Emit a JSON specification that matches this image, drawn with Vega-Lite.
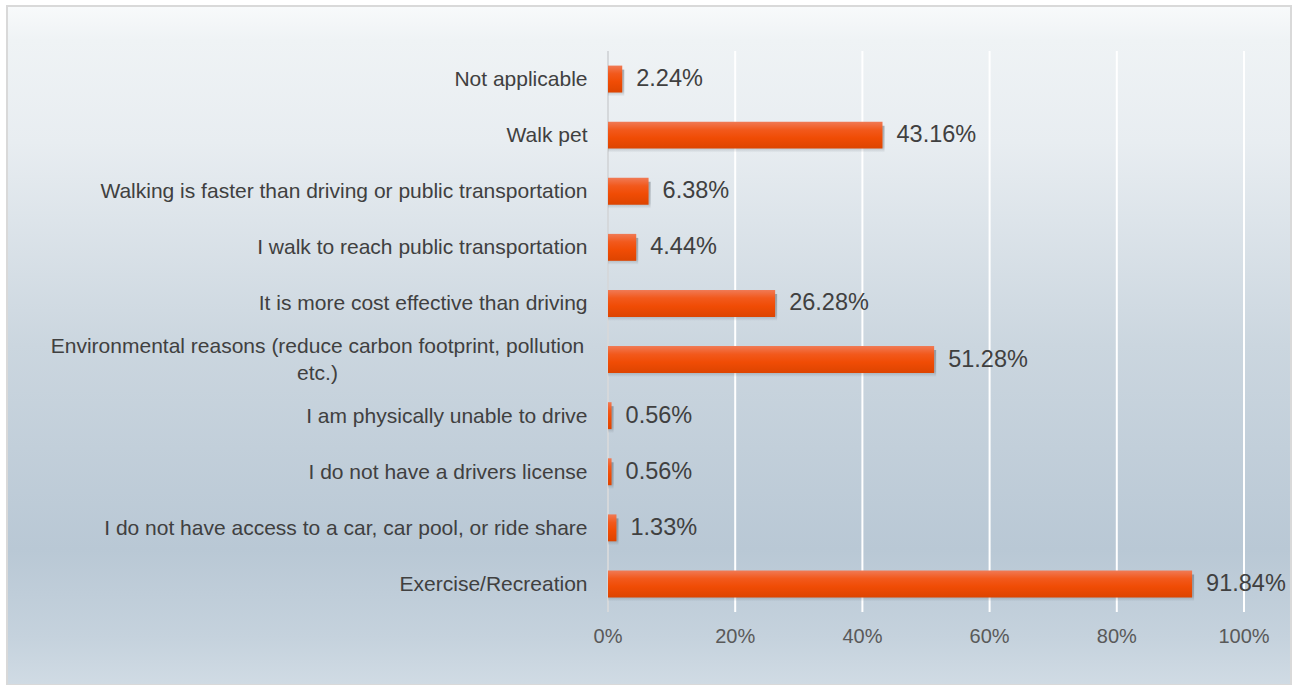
{
  "$schema": "https://vega.github.io/schema/vega-lite/v6.json",
  "width": 1284,
  "height": 679,
  "autosize": {"type": "none"},
  "padding": {"left": 7, "top": 6, "right": 1, "bottom": 0},
  "background": "#ffffff",
  "config": {
    "font": "Liberation Sans",
    "view": {
      "fill": {
        "gradient": "linear", "x1": 0, "y1": 0, "x2": 0, "y2": 1,
        "stops": [
          {"offset": 0, "color": "#f8fafb"},
          {"offset": 0.05, "color": "#eff3f5"},
          {"offset": 0.2, "color": "#e8edf1"},
          {"offset": 0.5, "color": "#cbd6df"},
          {"offset": 0.8, "color": "#b9c8d5"},
          {"offset": 0.93, "color": "#c5d2dd"},
          {"offset": 1, "color": "#d0dbe4"}
        ]
      },
      "stroke": "#d9d9d9",
      "strokeWidth": 2
    }
  },
  "datasets": {
    "bars": [
      {"cat": "Not applicable", "pct": 0.0224},
      {"cat": "Walk pet", "pct": 0.4316},
      {"cat": "Walking is faster than driving or public transportation", "pct": 0.0638},
      {"cat": "I walk to reach public transportation", "pct": 0.0444},
      {"cat": "It is more cost effective than driving", "pct": 0.2628},
      {"cat": "Environmental reasons (reduce carbon footprint, pollution etc.)", "pct": 0.5128},
      {"cat": "I am physically unable to drive", "pct": 0.0056},
      {"cat": "I do not have a drivers license", "pct": 0.0056},
      {"cat": "I do not have access to a car, car pool, or ride share", "pct": 0.0133},
      {"cat": "Exercise/Recreation", "pct": 0.9184}
    ],
    "grid": [{"g": 0}, {"g": 0.2}, {"g": 0.4}, {"g": 0.6}, {"g": 0.8}, {"g": 1.0}]
  },
  "layer": [
    {
      "data": {"name": "grid"},
      "mark": {"type": "rule", "strokeWidth": 2},
      "encoding": {
        "x": {
          "field": "g", "type": "quantitative",
          "scale": {"domain": [-0.94497, 1.0739], "nice": false, "zero": false},
          "axis": null
        },
        "y": {"datum": 0, "type": "quantitative", "scale": {"domain": [-0.13013, 1.08021], "nice": false, "zero": false}, "axis": null},
        "y2": {"datum": 1},
        "color": {"condition": {"test": "datum.g === 0", "value": "#d5d8db"}, "value": "#ffffff"}
      }
    },
    {
      "data": {"name": "grid"},
      "mark": {"type": "text", "baseline": "middle", "align": "center", "fontSize": 20, "color": "#595959", "font": "Liberation Sans", "dy": 0},
      "encoding": {
        "x": {
          "field": "g", "type": "quantitative",
          "scale": {"domain": [-0.94497, 1.0739], "nice": false, "zero": false},
          "axis": null
        },
        "y": {"datum": -0.0445, "type": "quantitative", "scale": {"domain": [-0.13013, 1.08021], "nice": false, "zero": false}, "axis": null},
        "text": {"field": "g", "type": "quantitative", "format": ".0%"}
      }
    },
    {
      "data": {"name": "bars"},
      "encoding": {
        "y": {
          "field": "cat", "type": "nominal", "sort": null,
          "scale": {
            "domain": [
              "Not applicable", "Walk pet", "Walking is faster than driving or public transportation",
              "I walk to reach public transportation", "It is more cost effective than driving",
              "Environmental reasons (reduce carbon footprint, pollution etc.)",
              "I am physically unable to drive", "I do not have a drivers license",
              "I do not have access to a car, car pool, or ride share", "Exercise/Recreation"
            ],
            "range": [45, 606], "paddingInner": 0.52, "paddingOuter": 0.26
          },
          "axis": {
            "orient": "left", "title": null, "domain": false, "ticks": false, "tickSize": 0, "grid": false,
            "labelExpr": "indexof(datum.value, 'Environmental') === 0 ? ['Environmental reasons (reduce carbon footprint, pollution', 'etc.)'] : datum.label",
            "labelPadding": {"condition": {"test": "indexof(datum.value, 'Environmental') === 0", "value": -310}, "value": -580},
            "labelAlign": {"condition": {"test": "indexof(datum.value, 'Environmental') === 0", "value": "center"}, "value": "right"},
            "labelOffset": {"condition": {"test": "indexof(datum.value, 'Environmental') === 0", "value": -13}, "value": 1},
            "labelBaseline": "middle", "labelLineHeight": 27,
            "labelFontSize": 21, "labelColor": "#404040", "labelFont": "Liberation Sans",
            "labelLimit": 900, "labelOverlap": false, "labelBound": false, "labelFlush": false
          }
        },
        "x": {
          "field": "pct", "type": "quantitative",
          "scale": {"domain": [-0.94497, 1.0739], "nice": false, "zero": false},
          "axis": null
        }
      },
      "layer": [
        {
          "mark": {
            "type": "bar", "xOffset": 2, "yOffset": 4,
            "fill": {
              "gradient": "linear", "x1": 0, "y1": 0, "x2": 0, "y2": 1,
              "stops": [
                {"offset": 0, "color": "rgba(60,70,80,0.4)"},
                {"offset": 0.8, "color": "rgba(60,70,80,0.28)"},
                {"offset": 1, "color": "rgba(60,70,80,0)"}
              ]
            }
          },
          "encoding": {"x2": {"datum": 0}}
        },
        {
          "mark": {
            "type": "bar",
            "fill": {
              "gradient": "linear", "x1": 0, "y1": 0, "x2": 0, "y2": 1,
              "stops": [
                {"offset": 0, "color": "#f07a55"},
                {"offset": 0.3, "color": "#f2591c"},
                {"offset": 0.6, "color": "#f04c05"},
                {"offset": 1, "color": "#dd4400"}
              ]
            }
          },
          "encoding": {"x2": {"datum": 0}}
        },
        {
          "mark": {"type": "text", "align": "left", "baseline": "middle", "dx": 14, "fontSize": 23.5, "color": "#404040", "font": "Liberation Sans"},
          "encoding": {"text": {"field": "pct", "type": "quantitative", "format": ".2%"}}
        }
      ]
    }
  ],
  "resolve": {"scale": {"y": "independent"}}
}
